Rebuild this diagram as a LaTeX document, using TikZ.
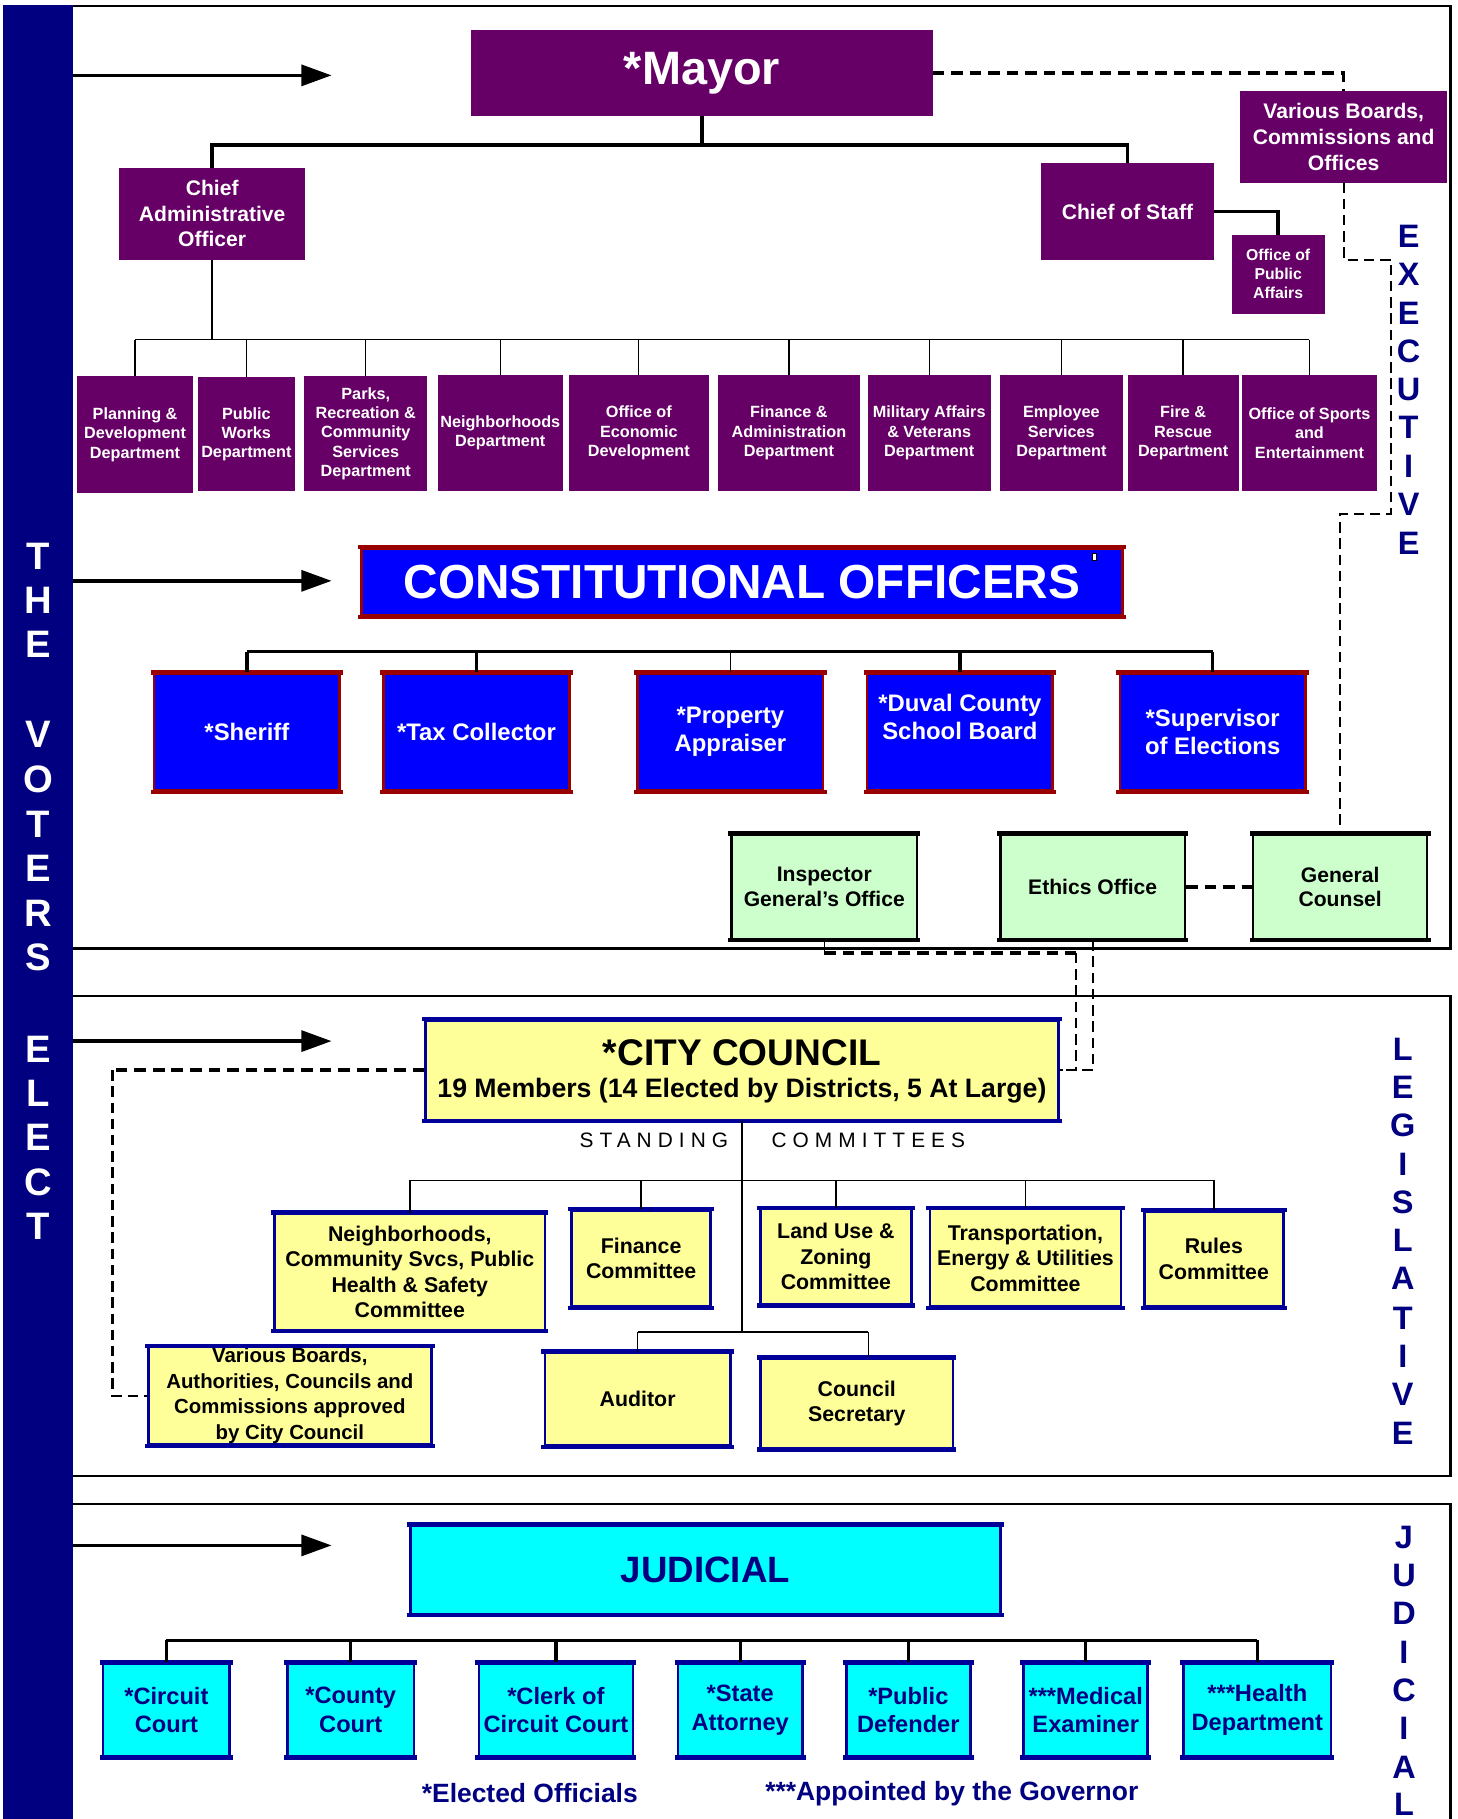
\documentclass[tikz,border=0pt]{standalone}
\usepackage{fontspec}
\setmainfont{Liberation Sans}
\usetikzlibrary{arrows.meta}
\definecolor{purp}{HTML}{660066}
\definecolor{navyc}{HTML}{000080}
\definecolor{cblue}{HTML}{0000FF}
\definecolor{dred}{HTML}{990000}
\definecolor{cnavy}{HTML}{000099}
\definecolor{lgreen}{HTML}{CCFFCC}
\definecolor{lyellow}{HTML}{FFFF99}
\definecolor{ccyan}{HTML}{00FFFF}
\newcommand\orgbox[7]{\node[#2,minimum width={(#5-#3)*0.5pt},minimum height={(#6-#4)*0.5pt}] (#1) at ({(#3+#5)/2},{(#4+#6)/2}) {#7};}
\tikzset{
  purpbox/.style={fill=purp, draw=purp, text=white, inner sep=0pt, align=center},
  deptbox/.style={purpbox, font=\fontsize{7}{8.3}\selectfont\bfseries},
  bluebox/.style={fill=cblue, draw=dred, line width=1.1pt, text=white, inner sep=0pt, align=center, font=\fontsize{10.3}{12}\selectfont\bfseries},
  greenbox/.style={fill=lgreen, draw=black, line width=1pt, text=black, inner sep=0pt, align=center, font=\fontsize{9.1}{10.5}\selectfont\bfseries},
  yelbox/.style={fill=lyellow, draw=cnavy, line width=1.1pt, text=black, inner sep=0pt, align=center, font=\fontsize{9.2}{11}\selectfont\bfseries},
  cyanbox/.style={fill=ccyan, draw=cnavy, line width=1.1pt, text=navyc, inner sep=0pt, align=center, font=\fontsize{10.2}{12.5}\selectfont\bfseries},
  thickc/.style={line width=1.5pt},
  thinc/.style={line width=0.6pt},
  frame/.style={line width=1pt},
  dashthick/.style={line width=1.5pt, dash pattern=on 5pt off 3pt},
  dashthin/.style={line width=0.9pt, dash pattern=on 4.5pt off 2.5pt},
  voterarrow/.style={line width=1.5pt, -{Triangle[length=13pt,width=9pt]}},
  sideletter/.style={text=navyc, inner sep=0pt, font=\fontsize{14}{14}\selectfont\bfseries},
  voterletter/.style={text=white, inner sep=0pt, font=\fontsize{16.5}{16.5}\selectfont\bfseries},
  edgeline/.style={line width=1.9pt, line cap=rect},
  plain/.style={inner sep=0pt}
}
\begin{document}
\begin{tikzpicture}[x=0.5pt,y=-0.5pt]
\useasboundingbox (0,0) rectangle (1257,1569);
\fill[white] (0,0) rectangle (1257,1569);
% left bar
\fill[navyc] (3,4) rectangle (63,1569);
% frames
\draw[frame] (63,5) -- (1251,5) -- (1251,818) -- (63,818);
\draw[frame] (63,859) -- (1251,859) -- (1251,1273) -- (63,1273);
\draw[frame] (63,1297) -- (1251,1297) -- (1251,1569);
% voter letters
\foreach \l/\yy [count=\i] in {T/480,H/518,E/556,V/633,O/672,T/711,E/749,R/788,S/826,E/905,L/943,E/981,C/1020,T/1058}
  \node[voterletter] (vl\i) at (33,\yy) {\l};
% side letters
\foreach \l/\yy [count=\i] in {E/204,X/237,E/270,C/303,U/336,T/369,I/402,V/435,E/469}
  \node[sideletter] (ex\i) at (1215,\yy) {\l};
\foreach \l/\yy [count=\i] in {L/905,E/938,G/971,I/1004,S/1037,L/1070,A/1103,T/1137,I/1170,V/1203,E/1236}
  \node[sideletter] (lg\i) at (1210,\yy) {\l};
\foreach \l/\yy [count=\i] in {J/1326,U/1359,D/1392,I/1425,C/1458,I/1491,A/1524,L/1556}
  \node[sideletter] (jd\i) at (1211,\yy) {\l};
% arrows
\coordinate (ar1s) at (63,65);   \coordinate (ar1e) at (286,65);
\coordinate (ar2s) at (63,501);  \coordinate (ar2e) at (286,501);
\coordinate (ar3s) at (63,898);  \coordinate (ar3e) at (286,898);
\coordinate (ar4s) at (63,1333); \coordinate (ar4e) at (286,1333);
\draw[voterarrow] (ar1s) -- (ar1e);
\draw[voterarrow] (ar2s) -- (ar2e);
\draw[voterarrow] (ar3s) -- (ar3e);
\draw[voterarrow] (ar4s) -- (ar4e);

% ===== EXECUTIVE =====
\orgbox{mayor}{purpbox,font=\fontsize{20.2}{24}\selectfont\bfseries}{407}{26}{804}{100}{*Mayor}
\orgbox{cao}{purpbox,font=\fontsize{9.1}{11}\selectfont\bfseries}{103}{145}{263}{224}{Chief\\Administrative\\Officer}
\orgbox{cos}{purpbox,font=\fontsize{9.1}{11}\selectfont\bfseries}{898}{141}{1047}{224}{Chief of Staff}
\orgbox{opa}{purpbox,font=\fontsize{6.8}{8.2}\selectfont\bfseries}{1063}{203}{1142}{270}{Office of\\Public\\Affairs}
\orgbox{vb}{purpbox,font=\fontsize{9.1}{11.2}\selectfont\bfseries}{1070}{79}{1248}{157}{Various Boards,\\Commissions and\\Offices}

\orgbox{d1}{deptbox}{67}{325}{166}{425}{Planning \&\\Development\\Department}
\orgbox{d2}{deptbox}{171}{326}{254}{423}{Public\\Works\\Department}
\orgbox{d3}{deptbox}{263}{325}{368}{423}{Parks,\\Recreation \&\\Community\\Services\\Department}
\orgbox{d4}{deptbox}{378}{324}{485}{423}{Neighborhoods\\Department}
\orgbox{d5}{deptbox}{491}{324}{611}{423}{Office of\\Economic\\Development}
\orgbox{d6}{deptbox}{620}{324}{741}{423}{Finance \&\\Administration\\Department}
\orgbox{d7}{deptbox}{749}{324}{854}{423}{Military Affairs\\\& Veterans\\Department}
\orgbox{d8}{deptbox}{863}{324}{968}{423}{Employee\\Services\\Department}
\orgbox{d9}{deptbox}{973}{324}{1068}{423}{Fire \&\\Rescue\\Department}
\orgbox{d10}{deptbox}{1072}{324}{1187}{423}{Office of Sports\\and\\Entertainment}

\coordinate (exbus) at (0,125);
\draw[thickc] (mayor.south) -- (mayor.south |- exbus) -| (cao.north);
\draw[thickc] (mayor.south |- exbus) -| (cos.north);
\draw[thickc] (cos.east) -| (opa.north);
\coordinate (dbus) at (0,293);
\draw[thinc] (cao.south) -- (cao.south |- dbus);
\draw[thinc] (d1.north |- dbus) -- (d10.north |- dbus);
\foreach \d in {d1,d2,d3,d4,d5,d6,d7,d8,d9,d10}
  \draw[thinc] (\d.north) -- (\d.north |- dbus);

% dashed executive links
\draw[dashthick] (mayor.east) -| (vb.north);
\coordinate (e1) at (1200,224);
\coordinate (e2) at (1200,443);

% ===== CONSTITUTIONAL =====
\orgbox{co}{bluebox,font=\fontsize{20.6}{24}\selectfont\bfseries}{312}{473}{968}{531}{CONSTITUTIONAL OFFICERS}
\node[draw=black, fill=white, line width=0.4pt, minimum width=2pt, minimum height=3pt, inner sep=0pt] (comark) at (944,480) {};
\orgbox{c1}{bluebox}{133}{581}{293}{682}{*Sheriff}
\orgbox{c2}{bluebox}{331}{581}{491}{682}{*Tax Collector}
\orgbox{c3}{bluebox}{550}{581}{710}{682}{*Property\\Appraiser}
\orgbox{c4}{bluebox}{748}{581}{908}{682}{}
\node[plain, text=white, align=center, font=\fontsize{10.3}{12}\selectfont\bfseries] (c4t) at (828,618.5) {*Duval County\\School Board};
\orgbox{c5}{bluebox}{966}{581}{1126}{682}{*Supervisor\\of Elections}
\foreach \n in {co,c1,c2,c3,c4,c5}
  \draw[edgeline, dred] (\n.north west) -- (\n.north east) (\n.south west) -- (\n.south east);
\coordinate (cbus) at (0,562);
\draw[thickc] (c1.north |- cbus) -- (c5.north |- cbus);
\foreach \c in {c1,c2,c4,c5}
  \draw[thickc] (\c.north) -- (\c.north |- cbus);
\draw[thinc] (c3.north) -- (c3.north |- cbus);

\orgbox{ig}{greenbox}{631}{720}{791}{810}{Inspector\\General’s Office}
\orgbox{eth}{greenbox}{863}{720}{1022}{810}{Ethics Office}
\orgbox{gc}{greenbox}{1081}{720}{1231}{810}{General\\Counsel}
\foreach \n in {ig,eth,gc}
  \draw[edgeline, black] (\n.north west) -- (\n.north east) (\n.south west) -- (\n.south east);

\draw[dashthin] (vb.south) |- (e1) -- (e2) -| (gc.north);
\draw[dashthick] (eth.east) -- (gc.west);

% ===== LEGISLATIVE =====
\orgbox{cc}{yelbox}{367}{880}{913}{966}{}
\node[plain, font=\fontsize{16}{18}\selectfont\bfseries] (cct) at (640,908) {*CITY COUNCIL};
\node[plain, font=\fontsize{11.5}{13}\selectfont\bfseries] (ccm) at (640,941) {19 Members (14 Elected by Districts, 5 At Large)};
\node[plain, font=\fontsize{9}{10}\selectfont\addfontfeature{LetterSpace=29}] (stand) at (564,984) {STANDING};
\node[plain, font=\fontsize{9}{10}\selectfont\addfontfeature{LetterSpace=29}] (comm) at (749,984) {COMMITTEES};

\coordinate (igj) at (711,822);
\coordinate (j1) at (928,822);
\coordinate (j2) at (928,923);
\draw[thinc] (ig.south) -- (igj);
\draw[dashthick] (igj) -- (j1);
\draw[dashthin] (j1) -- (j2) -- (cc.east);
\draw[dashthin] (eth.south) |- (cc.east);

\orgbox{k1}{yelbox}{237}{1047}{470}{1147}{Neighborhoods,\\Community Svcs, Public\\Health \& Safety\\Committee}
\orgbox{k2}{yelbox}{493}{1044}{613}{1127}{Finance\\Committee}
\orgbox{k3}{yelbox}{656}{1043}{786}{1125}{Land Use \&\\Zoning\\Committee}
\orgbox{k4}{yelbox}{802}{1043}{967}{1127}{Transportation,\\Energy \& Utilities\\Committee}
\orgbox{k5}{yelbox}{987}{1045}{1107}{1127}{Rules\\Committee}
\orgbox{vb2}{yelbox,font=\fontsize{8.8}{11}\selectfont\bfseries}{128}{1162}{372}{1246}{Various Boards,\\Authorities, Councils and\\Commissions approved\\by City Council}
\orgbox{aud}{yelbox}{470}{1167}{630}{1247}{Auditor}
\orgbox{csec}{yelbox}{656}{1172}{822}{1249}{Council\\Secretary}
\foreach \n in {cc,k1,k2,k3,k4,k5,vb2,aud,csec}
  \draw[edgeline, cnavy] (\n.north west) -- (\n.north east) (\n.south west) -- (\n.south east);

\coordinate (kbus) at (0,1018);
\coordinate (abus) at (0,1149);
\draw[thinc] (cc.south) -- (cc.south |- abus);
\draw[thinc] (k1.north |- kbus) -- (k5.north |- kbus);
\foreach \k in {k1,k2,k3,k4,k5}
  \draw[thinc] (\k.north) -- (\k.north |- kbus);
\draw[thinc] (aud.north |- abus) -- ([xshift=5pt]csec.north |- abus);
\draw[thinc] (aud.north) -- (aud.north |- abus);
\draw[thinc] ([xshift=5pt]csec.north) -- ([xshift=5pt]csec.north |- abus);

\coordinate (l1) at (97,923);
\draw[dashthick] (cc.west) -- (l1);
\draw[dashthin] (l1) |- (vb2.west);

% ===== JUDICIAL =====
\orgbox{jud}{cyanbox,font=\fontsize{15.8}{18}\selectfont\bfseries}{354}{1316}{863}{1392}{JUDICIAL}
\orgbox{j1b}{cyanbox}{89}{1435}{198}{1515}{*Circuit\\Court}
\orgbox{j2b}{cyanbox}{248}{1435}{357}{1515}{*County\\Court}
\orgbox{j3b}{cyanbox}{413}{1435}{546}{1515}{*Clerk of\\Circuit Court}
\orgbox{j4b}{cyanbox}{585}{1435}{692}{1515}{*State\\Attorney}
\orgbox{j5b}{cyanbox}{730}{1435}{837}{1515}{*Public\\Defender}
\orgbox{j6b}{cyanbox}{883}{1435}{990}{1515}{***Medical\\Examiner}
\orgbox{j7b}{cyanbox}{1021}{1435}{1148}{1515}{***Health\\Department}
\foreach \n in {jud,j1b,j2b,j3b,j4b,j5b,j6b,j7b}
  \draw[edgeline, cnavy] (\n.north west) -- (\n.north east) (\n.south west) -- (\n.south east);
\coordinate (jbus) at (0,1415);
\draw[thickc] (j1b.north |- jbus) -- (j7b.north |- jbus);
\foreach \j in {j1b,j2b,j3b,j4b,j5b,j6b,j7b}
  \draw[thickc] (\j.north) -- (\j.north |- jbus);

\node[plain, text=navyc, font=\fontsize{11.4}{13}\selectfont\bfseries] (f1) at (457,1547) {*Elected Officials};
\node[plain, text=navyc, font=\fontsize{11.4}{13}\selectfont\bfseries] (f2) at (821,1547) {***Appointed by the Governor};
\end{tikzpicture}
\end{document}
